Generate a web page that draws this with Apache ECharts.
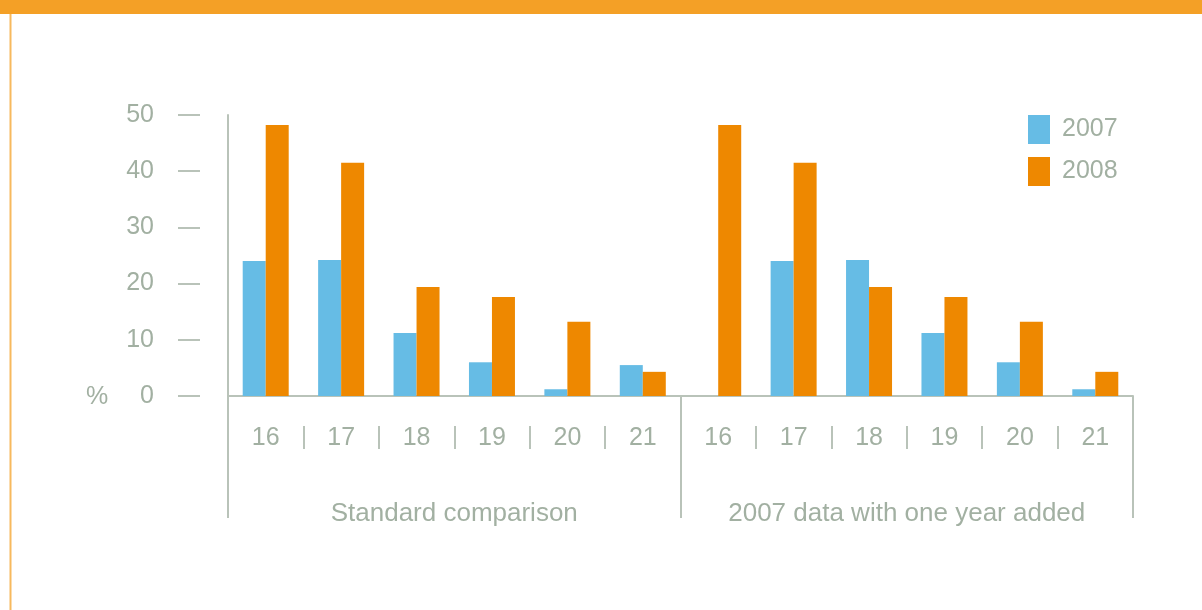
<!DOCTYPE html>
<html>
<head>
<meta charset="utf-8">
<script src="https://cdn.jsdelivr.net/npm/echarts@6/dist/echarts.min.js"></script>
<style>
  html, body { margin: 0; padding: 0; background: #fff; }
  #main { width: 1202px; height: 610px; }
</style>
</head>
<body>
<div id="main"></div>
<script>
var ages = ['16', '17', '18', '19', '20', '21', '16', '17', '18', '19', '20', '21'];
var groups = ['Standard comparison', '2007 data with one year added'];
var y2007 = [24.0, 24.2, 11.2, 6.0, 1.2, 5.5, 0, 24.0, 24.2, 11.2, 6.0, 1.2];
var y2008 = [48.2, 41.5, 19.4, 17.6, 13.2, 4.3, 48.2, 41.5, 19.4, 17.6, 13.2, 4.3];

var grey = '#a2b0a2';
var lineGrey = '#b9c3b9';
var font = 'Liberation Sans';

var myChart = echarts.init(document.getElementById('main'));
var option = {
    textStyle: { fontFamily: font },
    animation: false,
    graphic: [
        { type: 'rect', shape: { x: 0, y: 0, width: 1202, height: 14 }, style: { fill: '#f4a026' } },
        { type: 'line', shape: { x1: 10.5, y1: 14, x2: 10.5, y2: 610 }, style: { stroke: '#f7b95e', lineWidth: 2 } },
        { type: 'text', left: 86, top: 385, style: { text: '%', fill: grey, font: '25px ' + font } }
    ],
    legend: {
        orient: 'vertical',
        left: 1028,
        top: 115,
        padding: 0,
        itemWidth: 22,
        itemHeight: 29,
        itemGap: 13,
        icon: 'rect',
        textStyle: { color: grey, fontSize: 25, fontFamily: font, padding: [3, 0, 0, 7] },
        data: ['2007', '2008']
    },
    grid: { left: 228, right: 69, top: 115, bottom: 214, outerBoundsMode: 'none' },
    xAxis: [
        {
            type: 'category',
            position: 'bottom',
            data: ages,
            axisLine: { lineStyle: { color: lineGrey, width: 2 } },
            axisTick: { show: false },
            axisLabel: { color: grey, fontSize: 25, margin: 30, interval: 0 }
        },
        {
            type: 'category',
            position: 'bottom',
            data: ages,
            offset: 30,
            axisLine: { show: false, onZero: false },
            axisTick: { show: true, interval: 0, length: 23, lineStyle: { color: lineGrey, width: 2 } },
            axisLabel: { show: false }
        },
        {
            type: 'category',
            position: 'bottom',
            data: groups,
            axisLine: { show: false, onZero: false },
            axisTick: { show: true, interval: 0, length: 122, lineStyle: { color: lineGrey, width: 2 } },
            axisLabel: { color: grey, fontSize: 26, margin: 105, interval: 0 }
        }
    ],
    yAxis: [
        {
            type: 'value',
            min: 0, max: 50, interval: 10,
            axisLine: { show: true, lineStyle: { color: lineGrey, width: 2 } },
            axisTick: { show: false },
            axisLabel: { show: false },
            splitLine: { show: false }
        },
        {
            type: 'value',
            min: 0, max: 50, interval: 10,
            position: 'left',
            offset: 28,
            axisLine: { show: false, onZero: false },
            axisTick: { show: true, length: 22, lineStyle: { color: lineGrey, width: 2 } },
            axisLabel: { color: grey, fontSize: 25, margin: 46 },
            splitLine: { show: false }
        }
    ],
    series: [
        {
            name: '2007',
            type: 'bar',
            data: y2007,
            barWidth: 23,
            barGap: '0%',
            itemStyle: { color: '#66bce5' }
        },
        {
            name: '2008',
            type: 'bar',
            data: y2008,
            barWidth: 23,
            barGap: '0%',
            itemStyle: { color: '#ee8800' }
        }
    ]
};
myChart.setOption(option);
</script>
</body>
</html>
